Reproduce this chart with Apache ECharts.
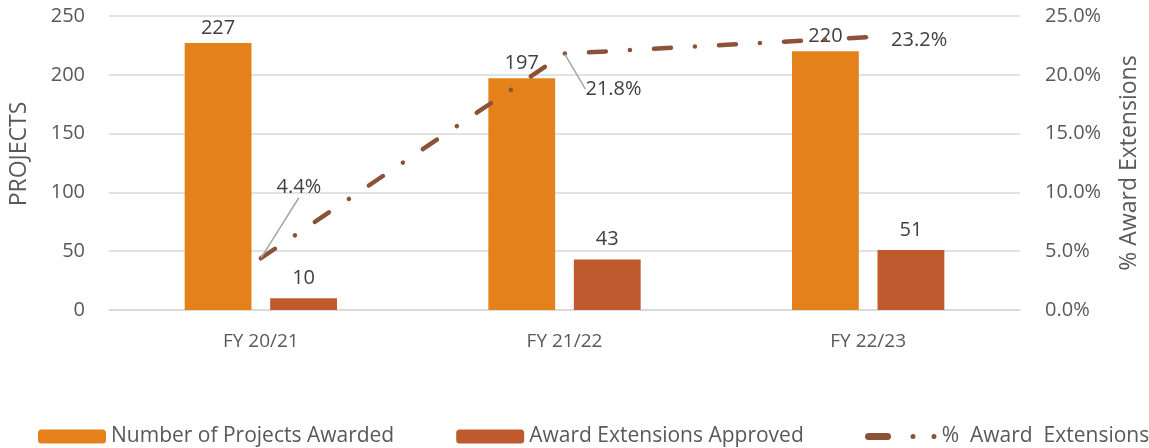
<!DOCTYPE html>
<html>
<head>
<meta charset="utf-8">
<script src="https://cdn.jsdelivr.net/npm/echarts@6/dist/echarts.min.js"></script>
<style>
  html, body { margin: 0; padding: 0; background: #fff; }
  #chart { width: 1149px; height: 448px; }
</style>
</head>
<body>
<div id="chart"></div>
<script>
// data
const categories = ["FY 20/21", "FY 21/22", "FY 22/23"];
const projectsAwarded = [227, 197, 220];
const extensionsApproved = [10, 43, 51];
const pctExtensions = [4.4, 21.8, 23.2];

const font = "Open Sans";
const textColor = "#404040";
const axisColor = "#595959";
const lineColor = "#8B523A";

// where the % labels sit relative to their default spot, and whether a leader line is drawn
const pctLabelLayouts = [
  { dx: 38, dy: -55 },
  { dx: 49, dy: 51 },
  { dx: 51, dy: 19 }
];
const pctLeader = [true, true, false];

// legend icon: one dash and two dots
const dashDotDot = "path://M3.5 0H22.5A3.5 3.5 0 0 1 22.5 7H3.5A3.5 3.5 0 0 1 3.5 0Z" +
  "M45.5 3.5A2.5 2.5 0 1 0 50.5 3.5A2.5 2.5 0 1 0 45.5 3.5Z" +
  "M66.5 3.5A2.5 2.5 0 1 0 71.5 3.5A2.5 2.5 0 1 0 66.5 3.5Z";

const chart = echarts.init(document.getElementById("chart"));
chart.setOption({
  animation: false,
  textStyle: { fontFamily: font },
  color: ["#E5811B", "#BE5A2D", lineColor],
  grid: { left: 108, right: 127, top: 16, bottom: 138 },
  legend: [
    {
      bottom: -4,
      left: 33,
      itemWidth: 68,
      itemHeight: 14,
      itemGap: 62,
      textStyle: { fontSize: 21, color: axisColor, fontFamily: font },
      data: ["Number of Projects Awarded", "Award Extensions Approved"]
    },
    {
      bottom: -4,
      left: 860,
      itemWidth: 72,
      itemHeight: 7,
      textStyle: { fontSize: 21, color: axisColor, fontFamily: font },
      data: [{ name: "%  Award  Extensions", icon: dashDotDot, itemStyle: { color: lineColor } }]
    }
  ],
  xAxis: {
    type: "category",
    data: categories,
    axisTick: { show: false },
    axisLine: { lineStyle: { color: "#D9D9D9", width: 1.5 } },
    axisLabel: { color: axisColor, fontSize: 19, margin: 22 }
  },
  yAxis: [
    {
      type: "value",
      min: 0,
      max: 250,
      interval: 50,
      name: "PROJECTS",
      nameLocation: "middle",
      nameRotate: 90,
      nameGap: 78,
      nameTextStyle: { color: axisColor, fontSize: 23, padding: [0, 0, 0, 18] },
      axisLabel: { color: axisColor, fontSize: 20, margin: 24 },
      splitLine: { lineStyle: { color: "#D9D9D9", width: 1.5 } }
    },
    {
      type: "value",
      min: 0,
      max: 25,
      interval: 5,
      name: "% Award Extensions",
      nameLocation: "middle",
      nameRotate: 90,
      nameGap: 98,
      nameTextStyle: { color: axisColor, fontSize: 23 },
      axisLabel: {
        color: axisColor,
        fontSize: 20,
        margin: 25,
        formatter: v => v.toFixed(1) + "%"
      },
      splitLine: { show: false }
    }
  ],
  series: [
    {
      name: "Number of Projects Awarded",
      type: "bar",
      data: projectsAwarded,
      barWidth: "22%",
      barGap: "28%",
      label: { show: true, position: "top", distance: 5, color: textColor, fontSize: 20 }
    },
    {
      name: "Award Extensions Approved",
      type: "bar",
      data: extensionsApproved,
      barWidth: "22%",
      label: { show: true, position: "top", distance: 10, color: textColor, fontSize: 20 }
    },
    {
      name: "%  Award  Extensions",
      type: "line",
      yAxisIndex: 1,
      symbol: "circle",
      symbolSize: 1,
      showSymbol: true,
      data: pctExtensions.map((v, i) => ({
        value: v,
        labelLine: { show: pctLeader[i] }
      })),
      lineStyle: { width: 4.5, type: [17, 24, 0.1, 24], cap: "round", color: lineColor },
      itemStyle: { color: lineColor },
      label: {
        show: true,
        color: textColor,
        fontSize: 20,
        formatter: p => p.value.toFixed(1) + "%"
      },
      labelLayout: p => pctLabelLayouts[p.dataIndex],
      labelLine: { lineStyle: { color: "#A6A6A6", width: 1.5 } }
    }
  ]
});
</script>
</body>
</html>
